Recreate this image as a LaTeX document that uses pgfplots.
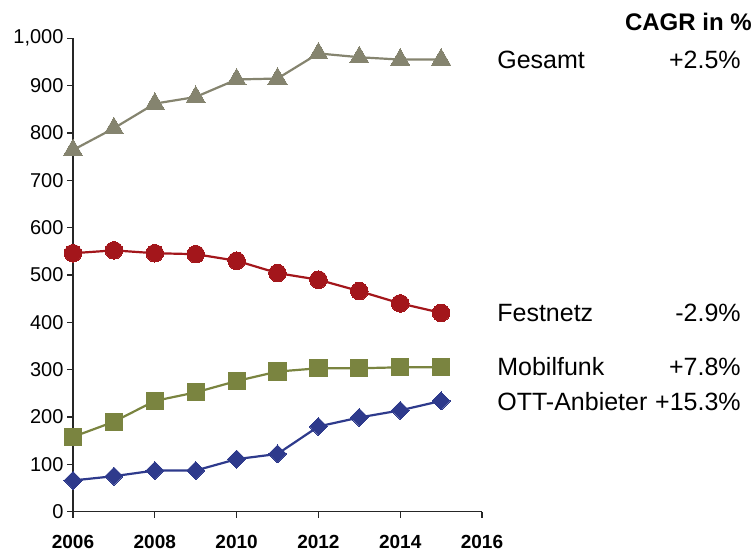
\documentclass[border=0pt]{standalone}
\usepackage{fontspec}
\setmainfont{Liberation Sans}
\usepackage{pgfplots}
\pgfplotsset{compat=1.18}
\definecolor{gesamt}{HTML}{85846F}
\definecolor{festnetz}{HTML}{A3161B}
\definecolor{mobil}{HTML}{7A8440}
\definecolor{ott}{HTML}{2E3A8C}

\begin{document}
\begin{tikzpicture}
\begin{axis}[
    scale only axis,
    width=409pt, height=473.4pt,
    xmin=2006, xmax=2016, ymin=0, ymax=1000,
    axis lines=left,
    axis line style={-, line width=1.4pt, black!85},
    clip=false,
    xtick={2006,2008,...,2016},
    ytick={0,100,...,1000},
    tick align=outside,
    major tick length=6pt,
    tick style={line width=1.2pt, black!85},
    /pgf/number format/assume math mode=true,
    yticklabel style={font=\fontsize{20}{24}\selectfont, /pgf/number format/1000 sep={,}},
    xticklabel style={font=\fontsize{19}{23}\selectfont\bfseries, /pgf/number format/1000 sep={}, yshift=-14pt},
    every axis plot/.append style={line width=2.2pt},
]
\addplot[color=gesamt, mark=triangle*, mark size=11pt, mark options={fill=gesamt, line width=0pt}]
  coordinates {(2006,764)(2007,810)(2008,862)(2009,876)(2010,913)(2011,915)(2012,968)(2013,960)(2014,955)(2015,955)};
\addplot[color=festnetz, mark=*, mark size=8.8pt, mark options={fill=festnetz, line width=0pt}]
  coordinates {(2006,546)(2007,552)(2008,546)(2009,544)(2010,530)(2011,504)(2012,490)(2013,466)(2014,440)(2015,420)};
\addplot[color=mobil, mark=square*, mark size=8.6pt, mark options={fill=mobil, line width=0pt}]
  coordinates {(2006,158)(2007,190)(2008,234)(2009,252)(2010,276)(2011,296)(2012,303)(2013,303)(2014,305)(2015,305)};
\addplot[color=ott, mark=square*, mark size=6.4pt, mark options={fill=ott, line width=0pt, rotate=45}]
  coordinates {(2006,66)(2007,75)(2008,87)(2009,87)(2010,111)(2011,122)(2012,180)(2013,199)(2014,214)(2015,234)};

\begin{scope}[every node/.style={font=\fontsize{25}{30}\selectfont, inner sep=0pt}]
\node[anchor=west] at (axis cs:2016.37,954) {Gesamt};
\node[anchor=west] at (axis cs:2016.37,420) {Festnetz};
\node[anchor=west] at (axis cs:2016.37,306) {Mobilfunk};
\node[anchor=west] at (axis cs:2016.37,232) {OTT-Anbieter};
\node[anchor=east] at (axis cs:2022.33,954) {+2.5\%};
\node[anchor=east] at (axis cs:2022.33,420) {-2.9\%};
\node[anchor=east] at (axis cs:2022.33,306) {+7.8\%};
\node[anchor=east] at (axis cs:2022.33,232) {+15.3\%};
\end{scope}
\node[anchor=east, inner sep=0pt, font=\fontsize{24}{29}\selectfont\bfseries] at (axis cs:2022.6,1034) {CAGR in \%};
\coordinate (bl) at (axis cs:2004.215,-89.4);
\coordinate (tr) at (axis cs:2022.675,1080.9);
\end{axis}
\path (bl) rectangle (tr);
\end{tikzpicture}
\end{document}
